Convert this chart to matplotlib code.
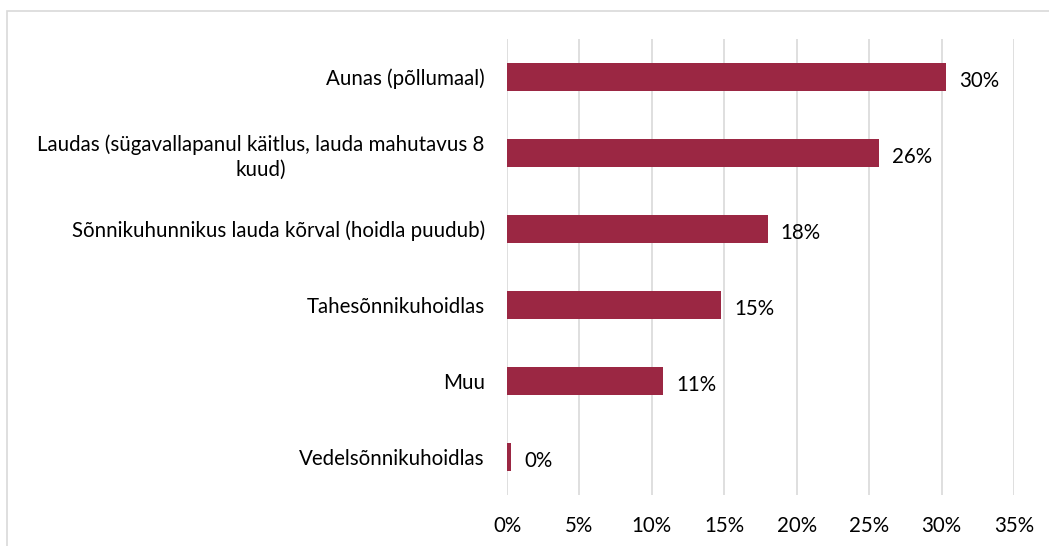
import matplotlib.pyplot as plt
from matplotlib.patches import Rectangle

categories = [
    "Aunas (põllumaal)",
    "Laudas (sügavallapanul käitlus, lauda mahutavus 8\nkuud)",
    "Sõnnikuhunnikus lauda kõrval (hoidla puudub)",
    "Tahesõnnikuhoidlas",
    "Muu",
    "Vedelsõnnikuhoidlas",
]
values = [30.3, 25.7, 18.0, 14.8, 10.8, 0.3]
value_labels = ["30%", "26%", "18%", "15%", "11%", "0%"]
ticks = [0, 5, 10, 15, 20, 25, 30, 35]
tick_labels = ["0%", "5%", "10%", "15%", "20%", "25%", "30%", "35%"]

plt.rcParams['font.family'] = ['Lato', 'DejaVu Sans']
bar_color = '#9B2743'
fs = 14.8

fig = plt.figure(figsize=(10.49, 5.46), dpi=100)
ax = fig.add_axes([507 / 1049, 51 / 546, 507 / 1049, 456 / 546])

# outer frame like the Excel chart area
fig.patches.append(Rectangle((7 / 1049, -0.1), 1.2, (535 + 0.1 * 546) / 546,
                             transform=fig.transFigure, fill=False,
                             edgecolor='#D9D9D9', linewidth=1.2))

y = list(range(len(categories)))
ax.barh(y, values, height=0.36, color=bar_color, zorder=3)
for yi, v, lab in zip(y, values, value_labels):
    ax.text(v + 0.9, yi + 0.05, lab, va='center', ha='left', fontsize=fs, color='#000000')

ax.set_xlim(0, 35)
ax.set_ylim(len(categories) - 0.5, -0.5)
ax.set_xticks(ticks)
ax.set_xticklabels(tick_labels, fontsize=fs)
ax.set_yticks(y)
ax.set_yticklabels(categories, fontsize=fs, multialignment='center', linespacing=1.3)
ax.tick_params(axis='both', length=0)
ax.tick_params(axis='x', pad=15)
ax.tick_params(axis='y', pad=16)
ax.grid(axis='x', color='#D9D9D9', linewidth=1.2, zorder=0)
for s in ax.spines.values():
    s.set_visible(False)

fig.savefig('out.png', dpi=100)
